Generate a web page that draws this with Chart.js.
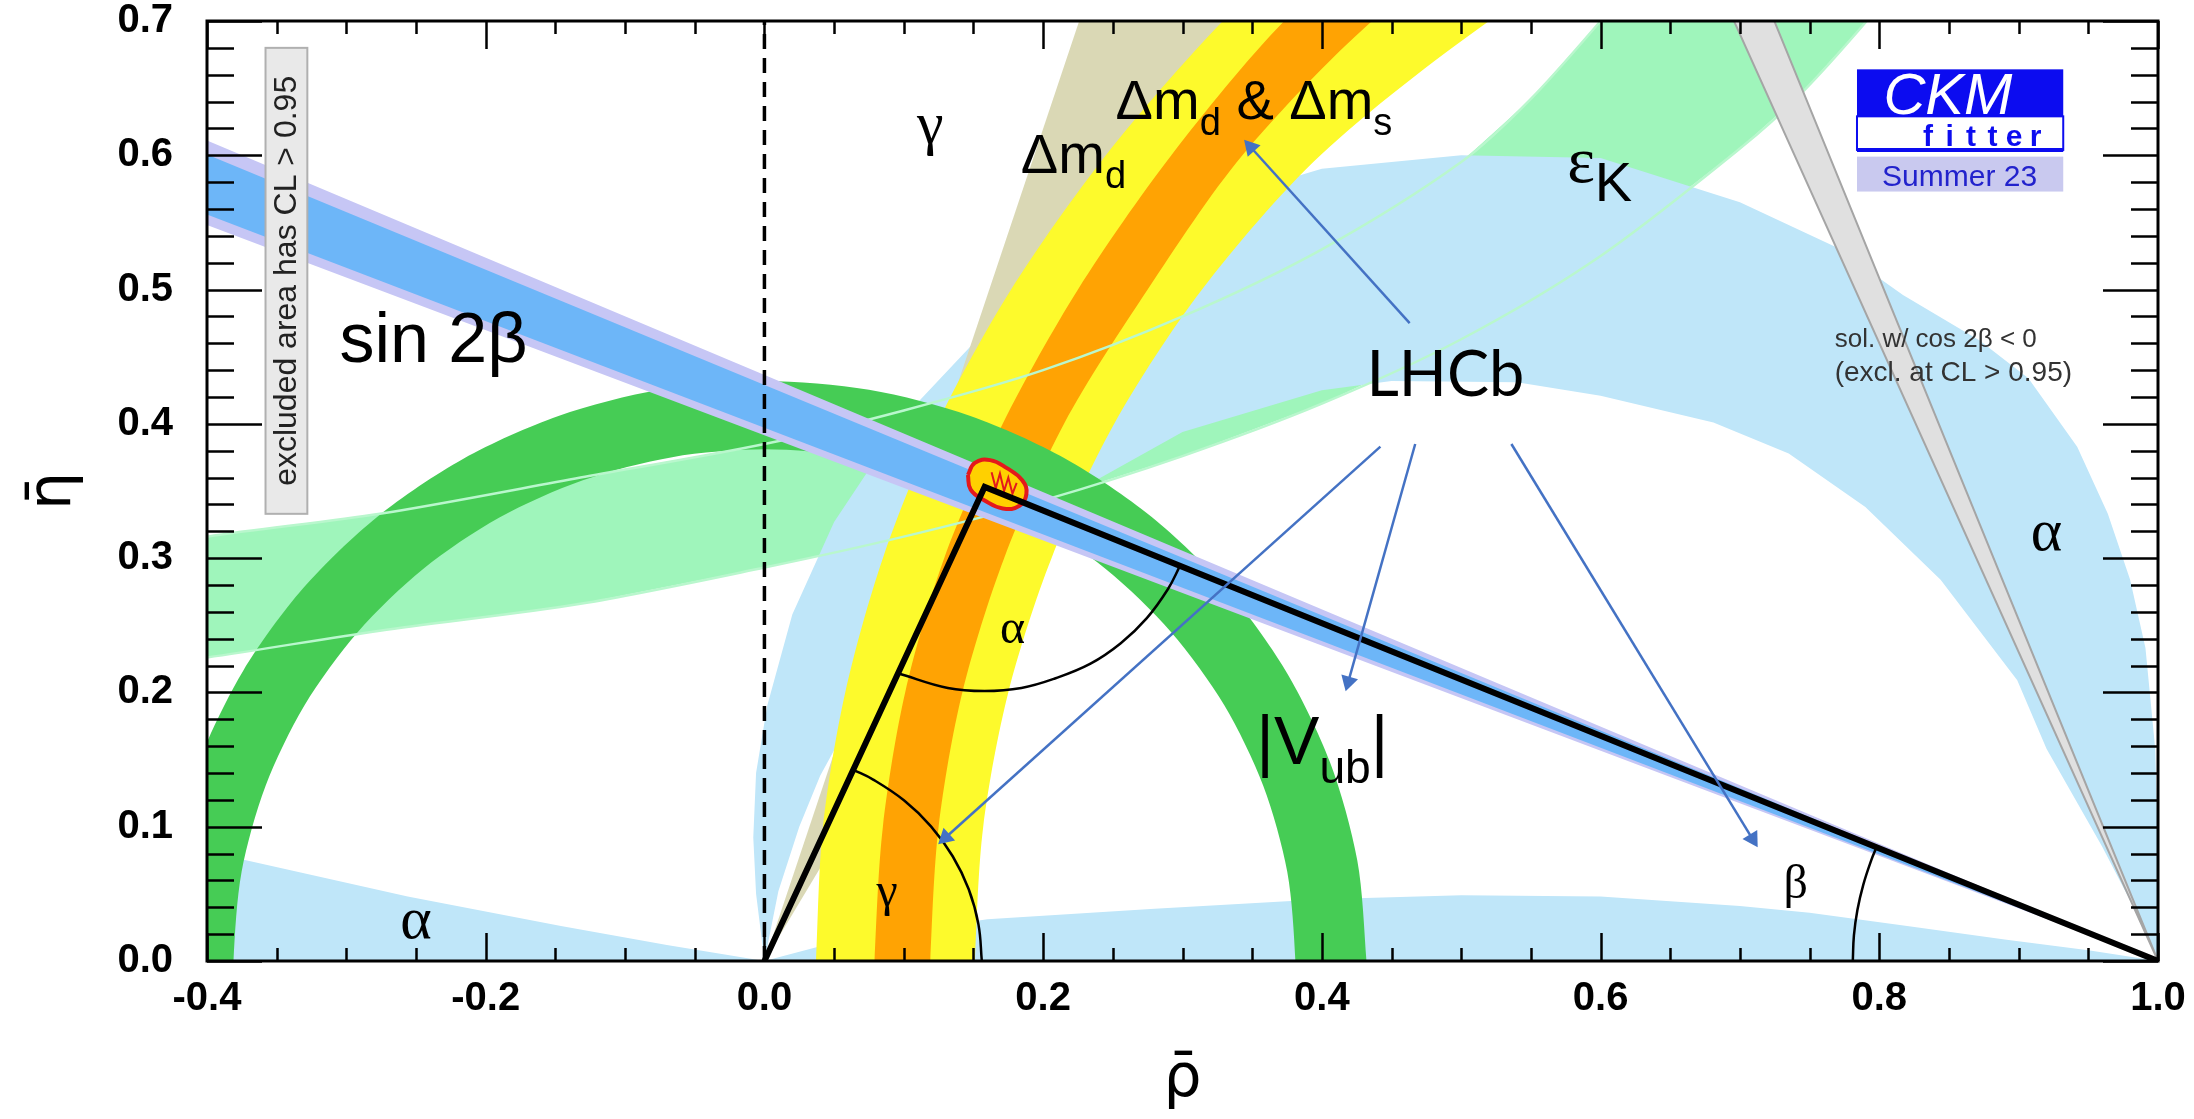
<!DOCTYPE html>
<html>
<head>
<meta charset="utf-8">
<script src="https://cdn.jsdelivr.net/npm/chart.js@4.4.0/dist/chart.umd.min.js"></script>
<style>
  html, body { margin: 0; background: #fff; }
  canvas { display: block; }
</style>
</head>
<body>
<canvas id="ckm" width="2194" height="1119"></canvas>
<script>
// ---- axis ticks ----
const xTickValues = [-0.4, -0.2, 0.0, 0.2, 0.4, 0.6, 0.8, 1.0];
const xTickLabels = ['-0.4', '-0.2', '0.0', '0.2', '0.4', '0.6', '0.8', '1.0'];
const yTickValues = [0.0, 0.1, 0.2, 0.3, 0.4, 0.5, 0.6, 0.7];
const yTickLabels = ['0.0', '0.1', '0.2', '0.3', '0.4', '0.5', '0.6', '0.7'];

// ---- constraints, as [rho, eta] points ----
const apex = [0.158, 0.353];
const triangle = [[0, 0], apex, [1, 0]];

// alpha: main band (outer edge then inner edge) and the two thin lenses along the axis
const alphaMain = [
  [0.0, 0.0], [-0.006, 0.05], [-0.008, 0.092], [-0.006, 0.14], [0.002, 0.19], [0.02, 0.258],
  [0.05, 0.327], [0.1, 0.405], [0.15, 0.46], [0.2, 0.502], [0.3, 0.559], [0.4, 0.59],
  [0.5, 0.6], [0.6, 0.598], [0.7, 0.565], [0.768, 0.532], [0.817, 0.496], [0.872, 0.462],
  [0.907, 0.434], [0.942, 0.383], [0.964, 0.333], [0.98, 0.284], [0.991, 0.233], [0.998, 0.158],
  [1.0, 0.08], [1.0, 0.0],
  [0.985, 0.035], [0.96, 0.085], [0.92, 0.158], [0.899, 0.209], [0.844, 0.284], [0.79, 0.338],
  [0.735, 0.378], [0.681, 0.401], [0.6, 0.421], [0.54, 0.431], [0.45, 0.432], [0.4, 0.425],
  [0.3, 0.394], [0.2, 0.336], [0.15, 0.294], [0.1, 0.238], [0.07, 0.195], [0.04, 0.138],
  [0.025, 0.1], [0.01, 0.052]
];
const alphaLowLeft = [[0, 0], [-0.07, 0.012], [-0.146, 0.026], [-0.256, 0.048], [-0.376, 0.076], [-0.45, 0.093], [-0.45, -0.02], [0, -0.02]];
const alphaLowRight = [
  [0, 0], [0.04, 0.011], [0.1, 0.022], [0.16, 0.031], [0.28, 0.039], [0.4, 0.046], [0.5, 0.049],
  [0.6, 0.048], [0.7, 0.041], [0.75, 0.036], [0.82, 0.026], [0.89, 0.016], [0.95, 0.008], [1.0, 0], [1.0, -0.02], [0, -0.02]
];

// epsilon_K band edges
const epsKUpper = [
  [-0.45, 0.305], [-0.4, 0.316], [-0.276, 0.333], [-0.132, 0.36], [0.0, 0.385], [0.1, 0.41],
  [0.2, 0.44], [0.3, 0.48], [0.4, 0.53], [0.5, 0.595], [0.55, 0.642], [0.6, 0.7], [0.64, 0.75]
];
const epsKLower = [
  [0.83, 0.75], [0.791, 0.7], [0.743, 0.645], [0.7, 0.605], [0.6, 0.525], [0.5, 0.463],
  [0.4, 0.415], [0.3, 0.376], [0.2, 0.343], [0.1, 0.316], [0.0, 0.293], [-0.132, 0.266],
  [-0.276, 0.246], [-0.4, 0.226], [-0.45, 0.22]
];

// gamma wedge from the origin
const gammaWedge = [[0, 0], [0.242, 0.75], [0.433, 0.75]];

// Delta m_d (yellow) and Delta m_d & Delta m_s (orange) rings around (1,0)
const dmdOuter = [[0.036, -0.03], [0.037, 0], [0.042, 0.1], [0.058, 0.2], [0.085, 0.3], [0.124, 0.4], [0.177, 0.5], [0.245, 0.6], [0.329, 0.7], [0.385, 0.75]];
const dmdInner = [[0.602, 0.75], [0.52, 0.7], [0.399, 0.6], [0.314, 0.5], [0.251, 0.4], [0.206, 0.3], [0.175, 0.2], [0.157, 0.1], [0.151, 0], [0.151, -0.03]];
const dmsOuter = [[0.079, -0.03], [0.079, 0], [0.085, 0.1], [0.101, 0.2], [0.129, 0.3], [0.171, 0.4], [0.225, 0.5], [0.292, 0.6], [0.373, 0.7], [0.433, 0.75]];
const dmsInner = [[0.505, 0.75], [0.436, 0.7], [0.343, 0.6], [0.275, 0.5], [0.215, 0.4], [0.172, 0.3], [0.142, 0.2], [0.125, 0.1], [0.119, 0], [0.119, -0.03]];

// |Vub| ring around the origin
const vubOuter = [
  [0.433, -0.03], [0.432, 0], [0.4254, 0.075], [0.4059, 0.1478], [0.3741, 0.216], [0.3309, 0.2777], [0.2777, 0.3309],
  [0.216, 0.3741], [0.1478, 0.4059], [0.075, 0.4254], [0, 0.432], [-0.075, 0.4254], [-0.1478, 0.4059],
  [-0.216, 0.3741], [-0.2777, 0.3309], [-0.3309, 0.2777], [-0.3741, 0.216], [-0.4059, 0.1478],
  [-0.4254, 0.075], [-0.432, 0], [-0.433, -0.03]
];
const vubInner = [
  [-0.38, -0.03], [-0.381, 0], [-0.3752, 0.0662], [-0.358, 0.1303], [-0.33, 0.1905], [-0.2919, 0.2449], [-0.2449, 0.2919],
  [-0.1905, 0.33], [-0.1303, 0.358], [-0.0662, 0.3752], [0, 0.381], [0.0662, 0.3752], [0.1303, 0.358],
  [0.1905, 0.33], [0.2449, 0.2919], [0.2919, 0.2449], [0.33, 0.1905], [0.358, 0.1303], [0.3752, 0.0662], [0.381, 0], [0.38, -0.03]
];

// sin 2beta wedges from (1,0)
const sin2bWide = [[1, 0], [-0.45, 0.6328], [-0.45, 0.5676]];
const sin2bCore = [[1, 0], [-0.45, 0.622], [-0.45, 0.5757]];
// cos 2beta < 0 solution
const cos2bWedge = [[1, 0], [0.674, 0.75], [0.705, 0.75], [1, 0]];

// angle arcs
const arcAlpha = [[0.0959, 0.2143], [0.1316, 0.2033], [0.158, 0.201], [0.1844, 0.2033], [0.208, 0.2102], [0.234, 0.2214], [0.2557, 0.2366], [0.2744, 0.2553], [0.2896, 0.277], [0.2982, 0.2942]];
const arcGamma = [[0.156, 0], [0.1536, 0.0271], [0.1466, 0.0534], [0.1351, 0.078], [0.1195, 0.1003], [0.1003, 0.1195], [0.078, 0.1351], [0.0637, 0.1424]];
const arcBeta = [[0.781, 0], [0.7818, 0.0191], [0.7843, 0.038], [0.7885, 0.0567], [0.7942, 0.0749], [0.798, 0.0847]];

// global fit contour at the apex, with its inner hatching
const apexBlob = [[0.146, 0.362], [0.151, 0.371], [0.162, 0.373], [0.174, 0.367], [0.185, 0.358], [0.188, 0.348], [0.183, 0.339], [0.171, 0.337], [0.158, 0.343], [0.148, 0.351], [0.146, 0.362]];
const apexHatch = [[0.163, 0.364], [0.166, 0.352], [0.169, 0.363], [0.172, 0.350], [0.175, 0.360], [0.178, 0.348], [0.181, 0.356]];

const dashedZero = [[0, 0], [0, 0.7]];

// LHCb arrows: start, tip
const arrowLines = [
  [[0.463, 0.475], [0.349, 0.606]],
  [[0.442, 0.383], [0.130, 0.092]],
  [[0.467, 0.385], [0.419, 0.208]],
  [[0.536, 0.385], [0.709, 0.091]]
];

const SANS = '"Liberation Sans", Arial, sans-serif';
const SERIF = '"Liberation Serif", "DejaVu Serif", serif';

const toXY = p => ({x: p[0], y: p[1]});
function band(pts, color, extra) {
  return Object.assign({data: pts.map(toXY), backgroundColor: color, borderWidth: 0, fill: 'shape', pointRadius: 0, tension: 0}, extra || {});
}
function curve(pts, color, width, extra) {
  return Object.assign({data: pts.map(toXY), borderColor: color, borderWidth: width, fill: false, pointRadius: 0, tension: 0}, extra || {});
}
function arrow(pts) {
  return {
    data: pts.map(toXY), borderColor: '#4472c4', borderWidth: 2.5, fill: false,
    pointRadius: [0, 10], pointStyle: 'triangle', pointBackgroundColor: '#4472c4', pointBorderWidth: 0,
    pointRotation: c => {
      const s = c.chart.scales;
      const dx = s.x.getPixelForValue(pts[1][0]) - s.x.getPixelForValue(pts[0][0]);
      const dy = s.y.getPixelForValue(pts[1][1]) - s.y.getPixelForValue(pts[0][1]);
      return Math.atan2(dx, -dy) * 180 / Math.PI;
    }
  };
}

// bottom layer first
const datasets = [
  band(epsKUpper.concat(epsKLower), '#9ff5bb'),
  band(alphaMain, '#bfe6f9'),
  band(alphaLowLeft, '#bfe6f9'),
  band(alphaLowRight, '#bfe6f9'),
  band(gammaWedge, '#dad8b5'),
  band(dmdOuter.concat(dmdInner), '#fdfa2c', {tension: 0.3}),
  band(dmsOuter.concat(dmsInner), '#ffa303', {tension: 0.3}),
  band(vubOuter.concat(vubInner), '#46cc55', {tension: 0.3}),
  curve(epsKUpper, '#b9f7cd', 2.5, {tension: 0.3}),
  curve(epsKLower, '#b9f7cd', 2.5, {tension: 0.3}),
  band(sin2bWide, '#c6c6f5'),
  band(sin2bCore, '#6db6f8'),
  band(cos2bWedge, '#e0e0e0', {borderColor: '#a5a5a5', borderWidth: 2}),
  curve(dashedZero, '#000', 3.5, {borderDash: [15, 9]}),
  curve(arcAlpha, '#000', 2.5, {tension: 0.4}),
  curve(arcGamma, '#000', 2.5, {tension: 0.4}),
  curve(arcBeta, '#000', 2.5, {tension: 0.4}),
  band(apexBlob, '#ffd000', {borderColor: '#e3191c', borderWidth: 4, tension: 0.45}),
  curve(apexHatch, '#e3191c', 2),
  curve(triangle, '#000', 6, {borderJoinStyle: 'miter'})
].concat(arrowLines.map(arrow));
datasets.forEach((d, i) => { d.order = datasets.length - i; });

// text placed in the plot: parts are [text, subscript?, family, size]
const textMarks = [
  {at: [0.119, 0.621], parts: [['γ']], size: 60, family: SERIF, align: 'center', base: 'middle'},
  {at: [0.184, 0.587], parts: [['Δm'], ['d', 1]], size: 56},
  {at: [0.252, 0.627], parts: [['Δm'], ['d', 1], [' & Δm'], ['s', 1]], size: 56},
  {at: [0.576, 0.58], parts: [['ε', 0, SERIF], ['K', 1, SANS, 56]], size: 66},
  {at: [-0.305, 0.446], parts: [['sin 2β']], size: 70},
  {at: [0.353, 0.147], parts: [['|V'], ['ub', 1], ['|']], size: 68},
  {at: [0.920, 0.318], parts: [['α']], size: 60, family: SERIF, align: 'center', base: 'middle'},
  {at: [-0.25, 0.0285], parts: [['α']], size: 60, family: SERIF, align: 'center', base: 'middle'},
  {at: [0.178, 0.246], parts: [['α']], size: 48, family: SERIF, align: 'center', base: 'middle'},
  {at: [0.088, 0.05], parts: [['γ']], size: 48, family: SERIF, align: 'center', base: 'middle'},
  {at: [0.740, 0.056], parts: [['β']], size: 48, family: SERIF, align: 'center', base: 'middle'},
  {at: [0.768, 0.457], parts: [['sol. w/ cos 2β < 0']], size: 26, color: '#333'},
  {at: [0.768, 0.432], parts: [['(excl. at CL > 0.95)']], size: 28, color: '#333'},
  {at: [0.432, 0.421], parts: [['LHCb']], size: 63, family: 'Lato, "Open Sans", sans-serif'}
];

function drawMark(ctx, x, y, m) {
  const fam = m.family || SANS;
  const items = m.parts.map(([t, sub, f, sz]) => {
    const size = sz || (sub ? m.size * 0.68 : m.size);
    const font = size + 'px ' + (f || fam);
    ctx.font = font;
    return {t, sub, font, w: ctx.measureText(t).width};
  });
  const total = items.reduce((s, it) => s + it.w, 0);
  let cx = m.align === 'center' ? x - total / 2 : x;
  ctx.fillStyle = m.color || '#000';
  ctx.textAlign = 'left';
  ctx.textBaseline = m.base || 'alphabetic';
  items.forEach(it => {
    ctx.font = it.font;
    ctx.fillText(it.t, cx, y + (it.sub ? m.size * 0.28 : 0));
    cx += it.w;
  });
}

const annotations = {
  id: 'annotations',
  afterDatasetsDraw(chart) {
    const {ctx, chartArea: a, scales: {x, y}} = chart;
    const px = v => x.getPixelForValue(v), py = v => y.getPixelForValue(v);
    ctx.save();

    // "excluded area" box
    const bx0 = px(-0.358), bx1 = px(-0.328), by0 = py(0.68), by1 = py(0.333);
    ctx.fillStyle = '#e9e9e9'; ctx.strokeStyle = '#b0b0b0'; ctx.lineWidth = 2;
    ctx.fillRect(bx0, by0, bx1 - bx0, by1 - by0);
    ctx.strokeRect(bx0, by0, bx1 - bx0, by1 - by0);
    ctx.save();
    ctx.translate((bx0 + bx1) / 2, (by0 + by1) / 2);
    ctx.rotate(-Math.PI / 2);
    ctx.fillStyle = '#222'; ctx.font = '32px ' + SANS;
    ctx.textAlign = 'center'; ctx.textBaseline = 'middle';
    ctx.fillText('excluded area has CL > 0.95', 0, 1);
    ctx.restore();

    // CKMfitter logo
    const lx0 = px(0.784), lx1 = px(0.932);
    ctx.fillStyle = '#0c0cf0';
    ctx.fillRect(lx0, py(0.664), lx1 - lx0, py(0.629) - py(0.664));
    ctx.fillStyle = '#fff';
    ctx.font = 'italic 58px ' + SANS; ctx.textAlign = 'left'; ctx.textBaseline = 'alphabetic';
    ctx.fillText('CKM', px(0.803), py(0.631));
    ctx.strokeStyle = '#0c0cf0'; ctx.lineWidth = 2;
    ctx.strokeRect(lx0, py(0.629), lx1 - lx0, py(0.604) - py(0.629));
    ctx.lineWidth = 4;
    ctx.beginPath(); ctx.moveTo(lx0, py(0.604)); ctx.lineTo(lx1, py(0.604)); ctx.stroke();
    ctx.fillStyle = '#0c0cf0'; ctx.font = 'bold 30px ' + SANS; ctx.textAlign = 'center';
    'fitter'.split('').forEach((ch, i) => ctx.fillText(ch, px(0.835) + i * 21.5, py(0.607)));
    ctx.fillStyle = '#c9c9ef';
    ctx.fillRect(lx0, py(0.599), lx1 - lx0, py(0.573) - py(0.599));
    ctx.fillStyle = '#2222cc'; ctx.font = '30px ' + SANS; ctx.textAlign = 'left';
    ctx.fillText('Summer 23', px(0.802), py(0.577));

    textMarks.forEach(m => drawMark(ctx, px(m.at[0]), py(m.at[1]), m));

    // frame with inward ticks on all four sides
    ctx.strokeStyle = '#000'; ctx.lineWidth = 2.5;
    ctx.beginPath();
    for (let i = 0; i <= 28; i++) {
      const xv = Math.round(px(-0.4 + i * 0.05)) + 0.5;
      const len = i % 4 === 0 ? 28 : 13;
      ctx.moveTo(xv, a.bottom); ctx.lineTo(xv, a.bottom - len);
      ctx.moveTo(xv, a.top); ctx.lineTo(xv, a.top + len);
    }
    for (let i = 0; i <= 35; i++) {
      const yv = Math.round(py(i * 0.02)) + 0.5;
      const len = i % 5 === 0 ? 55 : 27;
      ctx.moveTo(a.left, yv); ctx.lineTo(a.left + len, yv);
      ctx.moveTo(a.right, yv); ctx.lineTo(a.right - len, yv);
    }
    ctx.stroke();
    ctx.lineWidth = 3;
    ctx.strokeRect(a.left, a.top, a.right - a.left, a.bottom - a.top);
    ctx.restore();
  }
};

// keep tick-label overhang from shrinking the plot area
const noOverhang = s => { s.paddingTop = 0; s.paddingBottom = 0; s.paddingLeft = 0; s.paddingRight = 0; };

new Chart(document.getElementById('ckm'), {
  type: 'line',
  data: {datasets},
  options: {
    responsive: false,
    devicePixelRatio: 1,
    animation: false,
    events: [],
    layout: {padding: {left: 0, right: 36, top: 21, bottom: 0}},
    plugins: {legend: {display: false}, tooltip: {enabled: false}},
    scales: {
      x: {
        type: 'linear', min: -0.4, max: 1.0,
        grid: {display: false, drawTicks: false},
        border: {display: false},
        afterBuildTicks: s => { s.ticks = xTickValues.map(v => ({value: v})); },
        afterFit: s => { s.height = 158; noOverhang(s); },
        ticks: {
          padding: 14, color: '#000', maxRotation: 0,
          font: {family: SANS, size: 40, weight: 'bold'},
          callback: (v, i) => xTickLabels[i]
        },
        title: {display: true, text: 'ρ\u0304', color: '#000', padding: {top: 0, bottom: 9},
          font: {family: '"DejaVu Sans", sans-serif', size: 60, lineHeight: 1}}
      },
      y: {
        type: 'linear', min: 0, max: 0.7,
        grid: {display: false, drawTicks: false},
        border: {display: false},
        afterBuildTicks: s => { s.ticks = yTickValues.map(v => ({value: v})); },
        afterFit: s => { s.width = 207; noOverhang(s); },
        ticks: {
          padding: 34, color: '#000',
          font: {family: SANS, size: 40, weight: 'bold'},
          callback: (v, i) => yTickLabels[i]
        },
        title: {display: true, text: 'η\u0304', color: '#000', padding: {top: 24, bottom: 0},
          font: {family: '"DejaVu Sans", sans-serif', size: 60, lineHeight: 1}}
      }
    }
  },
  plugins: [annotations]
});
</script>
</body>
</html>
